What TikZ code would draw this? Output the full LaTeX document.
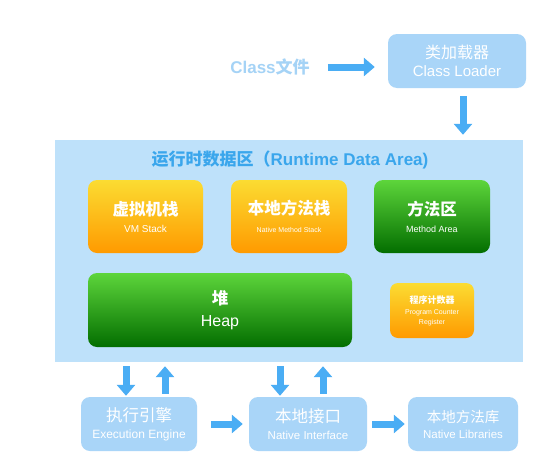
\documentclass[tikz,border=0pt]{standalone}
\usepackage{fontspec}
\setmainfont{Liberation Sans}
\newfontfamily\cjk{Noto Sans CJK SC}
\usetikzlibrary{arrows.meta}
\definecolor{lbbox}{HTML}{A9D5F8}
\definecolor{areabg}{HTML}{BEE1FA}
\definecolor{arrcol}{HTML}{4AADF4}
\definecolor{titlecol}{HTML}{3AA6EC}
\definecolor{clscol}{HTML}{A5D3F6}
\definecolor{orgtop}{HTML}{FBDC32}
\definecolor{orgbot}{HTML}{FF9A00}
\definecolor{grntop}{HTML}{5DD53B}
\definecolor{grnbot}{HTML}{036E00}
\newcommand{\fsz}[1]{\fontsize{#1}{#1}\selectfont}
\newcommand{\cn}[2]{{\cjk\bfseries\fsz{#1}#2}}
\newcommand{\cnr}[2]{{\cjk\fsz{#1}#2}}
\tikzset{
  lbnode/.style={fill=lbbox, rounded corners=9pt, text=white, align=center, inner sep=0pt},
  orgnode/.style={top color=orgtop, bottom color=orgbot, rounded corners=9pt, text=white, align=center, inner sep=0pt},
  grnnode/.style={top color=grntop, bottom color=grnbot, rounded corners=9pt, text=white, align=center, inner sep=0pt},
  arr/.style={draw=arrcol, line width=7pt, -{Triangle[width=18pt,length=11pt]}}
}
\begin{document}
\begin{tikzpicture}[x=1pt,y=-1pt]
\useasboundingbox[fill=white] (0,0) rectangle (547,461);
% class file and loader
\node[text=clscol, inner sep=0pt, font=\bfseries\fsz{17}] (cls) at (270,67) {Class{\cjk\bfseries 文件}};
\node[lbnode, minimum width=138pt, minimum height=54pt] (loader) at (457,61)
  {\cnr{16}{类加载器}\\[5pt]{\fsz{15}Class Loader}};
% runtime data area
\node[fill=areabg, minimum width=468pt, minimum height=222pt, inner sep=0pt] (area) at (289,251) {};
\node[text=titlecol, inner sep=0pt, font=\bfseries\fsz{17}] (title) at (290,160)
  {{\cjk\bfseries 运行时数据区（}Runtime Data Area)};
\node[orgnode, minimum width=115pt, minimum height=73pt] (vm) at (145.5,216.5)
  {\cn{16.5}{虚拟机栈}\\[5pt]{\fsz{10}VM Stack}};
\node[orgnode, minimum width=116pt, minimum height=73pt] (nms) at (289,216.5)
  {\cn{16.5}{本地方法栈}\\[6pt]{\fsz{7}Native Method Stack}};
\node[grnnode, minimum width=116pt, minimum height=73pt] (ma) at (432,216.5)
  {\cn{16.5}{方法区}\\[5pt]{\fsz{9}Method Area}};
\node[grnnode, minimum width=264pt, minimum height=74pt] (heap) at (220,310)
  {\cn{16.5}{堆}\\[8pt]{\fsz{16}Heap}};
\node[orgnode, minimum width=84pt, minimum height=55pt, rounded corners=8pt] (pc) at (432,310.5)
  {\cn{9}{程序计数器}\\[-1pt]{\fsz{7}Program Counter}\\[-2pt]{\fsz{7}Register}};
% bottom
\node[lbnode, minimum width=116pt, minimum height=54pt] (exec) at (139,424)
  {\cnr{16.5}{执行引擎}\\[5pt]{\fsz{12}Execution Engine}};
\node[lbnode, minimum width=118pt, minimum height=54pt] (ni) at (308,424)
  {\cnr{16.5}{本地接口}\\[5pt]{\fsz{11.5}Native Interface}};
\node[lbnode, minimum width=110pt, minimum height=54pt] (nl) at (463,424)
  {\cnr{14.5}{本地方法库}\\[4pt]{\fsz{11.5}Native Libraries}};
% arrows
\draw[arr, shorten <=18pt, shorten >=13pt] (cls.east) -- (loader.west |- cls.east);
\draw[arr, shorten <=8pt, shorten >=5pt] (463,0 |- loader.south) -- (463,0 |- area.north);
\draw[arr, shorten <=4pt, shorten >=1pt] (126,0 |- area.south) -- (126,0 |- exec.north);
\draw[arr, shorten <=3pt, shorten >=4pt] (165,0 |- exec.north) -- (165,0 |- area.south);
\draw[arr, shorten <=4pt, shorten >=1pt] (280,0 |- area.south) -- (280,0 |- ni.north);
\draw[arr, shorten <=3pt, shorten >=4pt] (323,0 |- ni.north) -- (323,0 |- area.south);
\draw[arr, shorten <=14pt, shorten >=6pt] (exec.east) -- (ni.west);
\draw[arr, shorten <=5pt, shorten >=3pt] (ni.east) -- (nl.west);
\end{tikzpicture}
\end{document}
